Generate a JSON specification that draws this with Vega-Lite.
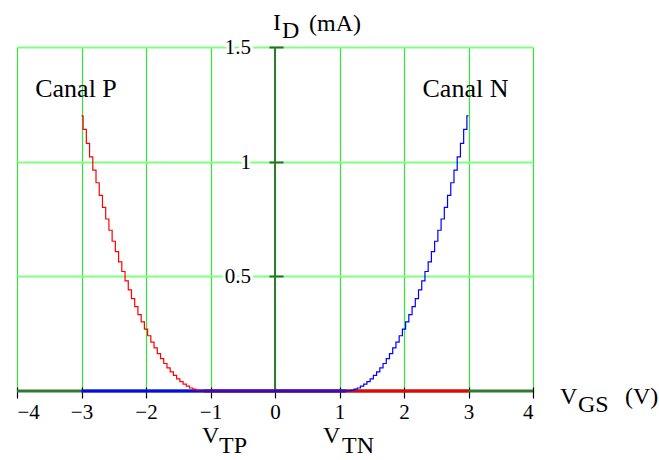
{
  "$schema": "https://vega.github.io/schema/vega-lite/v6.json",
  "autosize": "none",
  "width": 516,
  "height": 344,
  "padding": {"left": 17, "top": 47, "right": 126, "bottom": 69},
  "background": "white",
  "config": {"view": {"stroke": null}},
  "datasets": {
    "pchannel": [
      {"x": -3.0, "y": 1.2}, {"x": -2.95, "y": 1.141}, {"x": -2.9, "y": 1.08}, {"x": -2.85, "y": 1.021},
      {"x": -2.8, "y": 0.963}, {"x": -2.75, "y": 0.908}, {"x": -2.7, "y": 0.853}, {"x": -2.65, "y": 0.801},
      {"x": -2.6, "y": 0.75}, {"x": -2.55, "y": 0.701}, {"x": -2.5, "y": 0.653}, {"x": -2.45, "y": 0.608},
      {"x": -2.4, "y": 0.563}, {"x": -2.35, "y": 0.521}, {"x": -2.3, "y": 0.48}, {"x": -2.25, "y": 0.441},
      {"x": -2.2, "y": 0.403}, {"x": -2.15, "y": 0.368}, {"x": -2.1, "y": 0.333}, {"x": -2.05, "y": 0.301},
      {"x": -2.0, "y": 0.27}, {"x": -1.95, "y": 0.241}, {"x": -1.9, "y": 0.213}, {"x": -1.85, "y": 0.188},
      {"x": -1.8, "y": 0.163}, {"x": -1.75, "y": 0.141}, {"x": -1.7, "y": 0.12}, {"x": -1.65, "y": 0.101},
      {"x": -1.6, "y": 0.083}, {"x": -1.55, "y": 0.068}, {"x": -1.5, "y": 0.053}, {"x": -1.45, "y": 0.041},
      {"x": -1.4, "y": 0.03}, {"x": -1.35, "y": 0.021}, {"x": -1.3, "y": 0.013}, {"x": -1.25, "y": 0.008},
      {"x": -1.2, "y": 0.003}, {"x": -1.15, "y": 0.001}, {"x": -1.1, "y": 0}, {"x": 3.0, "y": 0}
    ],
    "nchannel": [
      {"x": -3.0, "y": 0}, {"x": 1.1, "y": 0}, {"x": 1.15, "y": 0.001}, {"x": 1.2, "y": 0.003},
      {"x": 1.25, "y": 0.008}, {"x": 1.3, "y": 0.013}, {"x": 1.35, "y": 0.021}, {"x": 1.4, "y": 0.03},
      {"x": 1.45, "y": 0.041}, {"x": 1.5, "y": 0.053}, {"x": 1.55, "y": 0.068}, {"x": 1.6, "y": 0.083},
      {"x": 1.65, "y": 0.101}, {"x": 1.7, "y": 0.12}, {"x": 1.75, "y": 0.141}, {"x": 1.8, "y": 0.163},
      {"x": 1.85, "y": 0.188}, {"x": 1.9, "y": 0.213}, {"x": 1.95, "y": 0.241}, {"x": 2.0, "y": 0.27},
      {"x": 2.05, "y": 0.301}, {"x": 2.1, "y": 0.333}, {"x": 2.15, "y": 0.368}, {"x": 2.2, "y": 0.403},
      {"x": 2.25, "y": 0.441}, {"x": 2.3, "y": 0.48}, {"x": 2.35, "y": 0.521}, {"x": 2.4, "y": 0.563},
      {"x": 2.45, "y": 0.608}, {"x": 2.5, "y": 0.653}, {"x": 2.55, "y": 0.701}, {"x": 2.6, "y": 0.75},
      {"x": 2.65, "y": 0.801}, {"x": 2.7, "y": 0.853}, {"x": 2.75, "y": 0.908}, {"x": 2.8, "y": 0.963},
      {"x": 2.85, "y": 1.021}, {"x": 2.9, "y": 1.08}, {"x": 2.95, "y": 1.141}, {"x": 3.0, "y": 1.2}
    ],
    "zeroP": [{"x": -1.1, "x2": 3.0}],
    "zeroN": [{"x": -3.0, "x2": 1.1}],
    "yticks": [{"y": 0.5, "t": "0.5"}, {"y": 1, "t": "1"}, {"y": 1.5, "t": "1.5"}],
    "canal": [{"x": -3.085, "y": 1.282, "t": "Canal P"}, {"x": 2.953, "y": 1.282, "t": "Canal N"}],
    "mains": [
      {"x": -0.031, "y": 1.574, "t": "I"},
      {"x": 0.527, "y": 1.57, "t": "(mA)"},
      {"x": 4.419, "y": -0.057, "t": "V"},
      {"x": 5.426, "y": -0.057, "t": "(V)"},
      {"x": -1.132, "y": -0.227, "t": "V"},
      {"x": 0.744, "y": -0.227, "t": "V"}
    ],
    "subs": [
      {"x": 0.109, "y": 1.539, "t": "D"},
      {"x": 4.698, "y": -0.092, "t": "GS"},
      {"x": -0.868, "y": -0.27, "t": "TP"},
      {"x": 1.039, "y": -0.27, "t": "TN"}
    ]
  },
  "layer": [
    {
      "data": {"name": "pchannel"},
      "mark": {"type": "line", "interpolate": "step", "color": "#ff0000", "strokeWidth": 1.2, "opacity": 0},
      "encoding": {
        "x": {"field": "x", "type": "quantitative",
          "scale": {"domain": [-4, 4], "nice": false, "zero": false},
          "axis": {"orient": "bottom", "values": [-4, -3, -2, -1, 0, 1, 2, 3, 4], "title": null,
            "grid": true, "gridColor": "#33e633", "gridWidth": 1.2,
            "domain": false, "ticks": true, "tickColor": "#000000", "tickSize": 11, "tickWidth": 1.2,
            "offset": -4, "labelFont": "Liberation Serif", "labelFontSize": 21, "labelColor": "#000000",
            "labelPadding": 3,
            "labelExpr": "datum.value < 0 ? '\u2212' + abs(datum.value) : '' + datum.value"}},
        "y": {"field": "y", "type": "quantitative",
          "scale": {"domain": [0, 1.5], "nice": false},
          "axis": {"orient": "left", "values": [0.5, 1, 1.5], "title": null,
            "grid": true, "gridColor": "#80ff80", "gridWidth": 2,
            "domain": false, "ticks": true, "tickColor": "#2b6b2b", "tickSize": 14, "tickWidth": 2,
            "offset": -266, "labels": false}}
      }
    },
    {
      "data": {"values": [{}]},
      "mark": {"type": "rule", "color": "#2e7a2e", "strokeWidth": 2},
      "encoding": {"x": {"datum": 0, "type": "quantitative"}}
    },
    {
      "data": {"values": [{}]},
      "mark": {"type": "rule", "color": "#2e7a2e", "strokeWidth": 3},
      "encoding": {"y": {"datum": 0, "type": "quantitative"}}
    },
    {
      "data": {"name": "zeroP"},
      "mark": {"type": "rule", "color": "#e00000", "strokeWidth": 3},
      "encoding": {
        "x": {"field": "x", "type": "quantitative"},
        "x2": {"field": "x2"},
        "y": {"datum": 0, "type": "quantitative"}
      }
    },
    {
      "data": {"name": "zeroN"},
      "mark": {"type": "rule", "color": "#1010e0", "strokeWidth": 3},
      "encoding": {
        "x": {"field": "x", "type": "quantitative"},
        "x2": {"field": "x2"},
        "y": {"datum": 0, "type": "quantitative"}
      }
    },
    {
      "data": {"name": "pchannel"},
      "mark": {"type": "line", "interpolate": "step", "color": "#ff0000", "strokeWidth": 1.2},
      "encoding": {
        "x": {"field": "x", "type": "quantitative"},
        "y": {"field": "y", "type": "quantitative"}
      }
    },
    {
      "data": {"name": "nchannel"},
      "mark": {"type": "line", "interpolate": "step", "color": "#0000ff", "strokeWidth": 1.2},
      "encoding": {
        "x": {"field": "x", "type": "quantitative"},
        "y": {"field": "y", "type": "quantitative"}
      }
    },
    {
      "data": {"name": "yticks"},
      "mark": {"type": "text", "align": "right", "baseline": "middle", "dx": -24, "dy": 1,
        "font": "Liberation Serif", "fontSize": 21, "fill": "white", "stroke": "white", "strokeWidth": 6},
      "encoding": {
        "x": {"datum": 0, "type": "quantitative"},
        "y": {"field": "y", "type": "quantitative"},
        "text": {"field": "t"}
      }
    },
    {
      "data": {"name": "yticks"},
      "mark": {"type": "text", "align": "right", "baseline": "middle", "dx": -24, "dy": 1,
        "font": "Liberation Serif", "fontSize": 21, "color": "#000000"},
      "encoding": {
        "x": {"datum": 0, "type": "quantitative"},
        "y": {"field": "y", "type": "quantitative"},
        "text": {"field": "t"}
      }
    },
    {
      "data": {"name": "canal"},
      "mark": {"type": "text", "align": "center", "baseline": "alphabetic",
        "font": "Liberation Serif", "fontSize": 26, "color": "#000000"},
      "encoding": {
        "x": {"field": "x", "type": "quantitative"},
        "y": {"field": "y", "type": "quantitative"},
        "text": {"field": "t"}
      }
    },
    {
      "data": {"name": "mains"},
      "mark": {"type": "text", "align": "left", "baseline": "alphabetic",
        "font": "Liberation Serif", "fontSize": 24, "color": "#000000"},
      "encoding": {
        "x": {"field": "x", "type": "quantitative"},
        "y": {"field": "y", "type": "quantitative"},
        "text": {"field": "t"}
      }
    },
    {
      "data": {"name": "subs"},
      "mark": {"type": "text", "align": "left", "baseline": "alphabetic",
        "font": "Liberation Serif", "fontSize": 24, "color": "#000000"},
      "encoding": {
        "x": {"field": "x", "type": "quantitative"},
        "y": {"field": "y", "type": "quantitative"},
        "text": {"field": "t"}
      }
    }
  ]
}
